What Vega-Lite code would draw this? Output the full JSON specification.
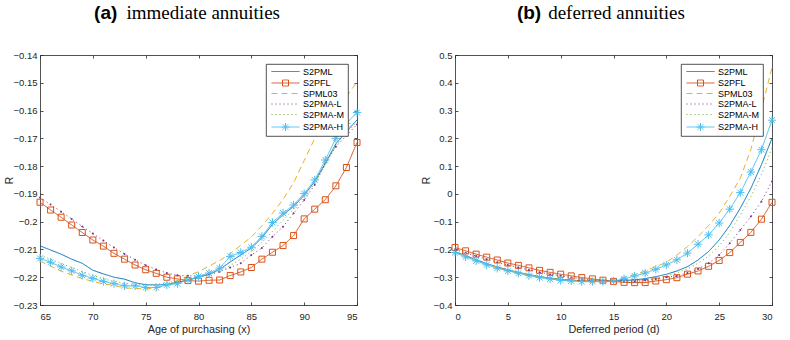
{
  "$schema": "https://vega.github.io/schema/vega-lite/v6.json",
  "autosize": {"type": "pad"},
  "padding": {"left": 3, "top": 3, "right": 5, "bottom": 2},
  "background": "white",
  "spacing": 98,
  "bounds": "flush",
  "config": {
    "view": {"stroke": null},
    "axis": {
      "grid": false,
      "domainColor": "#262626", "domainWidth": 0.8,
      "tickColor": "#262626", "tickWidth": 0.8, "tickSize": -3,
      "labelColor": "#262626", "labelFont": "Liberation Sans", "labelFontSize": 9.5,
      "titleColor": "#262626", "titleFont": "Liberation Sans", "titleFontSize": 10.8, "titleFontWeight": "normal"
    },
    "legend": {
      "orient": "top-right", "offset": 9, "title": null,
      "fillColor": "white", "strokeColor": "#262626", "strokeWidth": 0.8,
      "padding": 3, "cornerRadius": 0,
      "labelFont": "Liberation Sans", "labelFontSize": 9, "labelColor": "#000000", "labelAlign": "left",
      "symbolSize": 64, "symbolStrokeWidth": 1, "symbolOffset": 12, "labelOffset": 13, "rowPadding": 0.5,
      "symbolType": "stroke"
    }
  },
  "datasets": {
    "imm": [
      {"x":65,"S2PML":-0.2087,"S2PFL":-0.1930,"SPML03":-0.2142,"S2PMA-L":-0.1913,"S2PMA-M":-0.2120,"S2PMA-H":-0.2132},
      {"x":66,"S2PML":-0.2102,"S2PFL":-0.1958,"SPML03":-0.2160,"S2PMA-L":-0.1938,"S2PMA-M":-0.2135,"S2PMA-H":-0.2146},
      {"x":67,"S2PML":-0.2117,"S2PFL":-0.1984,"SPML03":-0.2178,"S2PMA-L":-0.1964,"S2PMA-M":-0.2150,"S2PMA-H":-0.2163},
      {"x":68,"S2PML":-0.2135,"S2PFL":-0.2012,"SPML03":-0.2192,"S2PMA-L":-0.1990,"S2PMA-M":-0.2165,"S2PMA-H":-0.2177},
      {"x":69,"S2PML":-0.2150,"S2PFL":-0.2039,"SPML03":-0.2205,"S2PMA-L":-0.2017,"S2PMA-M":-0.2180,"S2PMA-H":-0.2193},
      {"x":70,"S2PML":-0.2175,"S2PFL":-0.2066,"SPML03":-0.2215,"S2PMA-L":-0.2043,"S2PMA-M":-0.2193,"S2PMA-H":-0.2204},
      {"x":71,"S2PML":-0.2188,"S2PFL":-0.2088,"SPML03":-0.2224,"S2PMA-L":-0.2068,"S2PMA-M":-0.2205,"S2PMA-H":-0.2215},
      {"x":72,"S2PML":-0.2200,"S2PFL":-0.2114,"SPML03":-0.2230,"S2PMA-L":-0.2093,"S2PMA-M":-0.2215,"S2PMA-H":-0.2223},
      {"x":73,"S2PML":-0.2207,"S2PFL":-0.2135,"SPML03":-0.2238,"S2PMA-L":-0.2116,"S2PMA-M":-0.2222,"S2PMA-H":-0.2231},
      {"x":74,"S2PML":-0.2220,"S2PFL":-0.2156,"SPML03":-0.2241,"S2PMA-L":-0.2137,"S2PMA-M":-0.2226,"S2PMA-H":-0.2231},
      {"x":75,"S2PML":-0.2227,"S2PFL":-0.2173,"SPML03":-0.2242,"S2PMA-L":-0.2157,"S2PMA-M":-0.2228,"S2PMA-H":-0.2237},
      {"x":76,"S2PML":-0.2228,"S2PFL":-0.2186,"SPML03":-0.2238,"S2PMA-L":-0.2172,"S2PMA-M":-0.2226,"S2PMA-H":-0.2237},
      {"x":77,"S2PML":-0.2226,"S2PFL":-0.2200,"SPML03":-0.2228,"S2PMA-L":-0.2185,"S2PMA-M":-0.2220,"S2PMA-H":-0.2228},
      {"x":78,"S2PML":-0.2218,"S2PFL":-0.2206,"SPML03":-0.2212,"S2PMA-L":-0.2193,"S2PMA-M":-0.2214,"S2PMA-H":-0.2223},
      {"x":79,"S2PML":-0.2211,"S2PFL":-0.2212,"SPML03":-0.2195,"S2PMA-L":-0.2195,"S2PMA-M":-0.2206,"S2PMA-H":-0.2210},
      {"x":80,"S2PML":-0.2200,"S2PFL":-0.2214,"SPML03":-0.2180,"S2PMA-L":-0.2195,"S2PMA-M":-0.2200,"S2PMA-H":-0.2197},
      {"x":81,"S2PML":-0.2190,"S2PFL":-0.2211,"SPML03":-0.2160,"S2PMA-L":-0.2190,"S2PMA-M":-0.2193,"S2PMA-H":-0.2185},
      {"x":82,"S2PML":-0.2172,"S2PFL":-0.2210,"SPML03":-0.2140,"S2PMA-L":-0.2180,"S2PMA-M":-0.2178,"S2PMA-H":-0.2167},
      {"x":83,"S2PML":-0.2145,"S2PFL":-0.2194,"SPML03":-0.2115,"S2PMA-L":-0.2165,"S2PMA-M":-0.2158,"S2PMA-H":-0.2125},
      {"x":84,"S2PML":-0.2120,"S2PFL":-0.2181,"SPML03":-0.2085,"S2PMA-L":-0.2150,"S2PMA-M":-0.2135,"S2PMA-H":-0.2111},
      {"x":85,"S2PML":-0.2095,"S2PFL":-0.2165,"SPML03":-0.2055,"S2PMA-L":-0.2120,"S2PMA-M":-0.2108,"S2PMA-H":-0.2092},
      {"x":86,"S2PML":-0.2058,"S2PFL":-0.2135,"SPML03":-0.2015,"S2PMA-L":-0.2095,"S2PMA-M":-0.2075,"S2PMA-H":-0.2053},
      {"x":87,"S2PML":-0.2010,"S2PFL":-0.2110,"SPML03":-0.1970,"S2PMA-L":-0.2054,"S2PMA-M":-0.2035,"S2PMA-H":-0.2003},
      {"x":88,"S2PML":-0.1975,"S2PFL":-0.2086,"SPML03":-0.1920,"S2PMA-L":-0.2018,"S2PMA-M":-0.1995,"S2PMA-H":-0.1969},
      {"x":89,"S2PML":-0.1945,"S2PFL":-0.2050,"SPML03":-0.1860,"S2PMA-L":-0.1970,"S2PMA-M":-0.1955,"S2PMA-H":-0.1940},
      {"x":90,"S2PML":-0.1905,"S2PFL":-0.1990,"SPML03":-0.1780,"S2PMA-L":-0.1922,"S2PMA-M":-0.1912,"S2PMA-H":-0.1899},
      {"x":91,"S2PML":-0.1855,"S2PFL":-0.1955,"SPML03":-0.1700,"S2PMA-L":-0.1867,"S2PMA-M":-0.1862,"S2PMA-H":-0.1850},
      {"x":92,"S2PML":-0.1790,"S2PFL":-0.1921,"SPML03":-0.1650,"S2PMA-L":-0.1790,"S2PMA-M":-0.1795,"S2PMA-H":-0.1778},
      {"x":93,"S2PML":-0.1720,"S2PFL":-0.1871,"SPML03":-0.1600,"S2PMA-L":-0.1730,"S2PMA-M":-0.1725,"S2PMA-H":-0.1700},
      {"x":94,"S2PML":-0.1675,"S2PFL":-0.1805,"SPML03":-0.1550,"S2PMA-L":-0.1690,"S2PMA-M":-0.1680,"S2PMA-H":-0.1646},
      {"x":95,"S2PML":-0.1634,"S2PFL":-0.1715,"SPML03":-0.1496,"S2PMA-L":-0.1650,"S2PMA-M":-0.1642,"S2PMA-H":-0.1607}
    ],
    "def": [
      {"x":0,"S2PML":-0.2076,"S2PFL":-0.1931,"SPML03":-0.2100,"S2PMA-L":-0.2000,"S2PMA-M":-0.2090,"S2PMA-H":-0.2112},
      {"x":1,"S2PML":-0.2220,"S2PFL":-0.2050,"SPML03":-0.2250,"S2PMA-L":-0.2120,"S2PMA-M":-0.2235,"S2PMA-H":-0.2268},
      {"x":2,"S2PML":-0.2370,"S2PFL":-0.2170,"SPML03":-0.2390,"S2PMA-L":-0.2240,"S2PMA-M":-0.2380,"S2PMA-H":-0.2413},
      {"x":3,"S2PML":-0.2510,"S2PFL":-0.2278,"SPML03":-0.2530,"S2PMA-L":-0.2350,"S2PMA-M":-0.2520,"S2PMA-H":-0.2557},
      {"x":4,"S2PML":-0.2630,"S2PFL":-0.2380,"SPML03":-0.2650,"S2PMA-L":-0.2460,"S2PMA-M":-0.2640,"S2PMA-H":-0.2677},
      {"x":5,"S2PML":-0.2735,"S2PFL":-0.2490,"SPML03":-0.2750,"S2PMA-L":-0.2560,"S2PMA-M":-0.2745,"S2PMA-H":-0.2774},
      {"x":6,"S2PML":-0.2825,"S2PFL":-0.2573,"SPML03":-0.2840,"S2PMA-L":-0.2650,"S2PMA-M":-0.2835,"S2PMA-H":-0.2858},
      {"x":7,"S2PML":-0.2905,"S2PFL":-0.2663,"SPML03":-0.2920,"S2PMA-L":-0.2740,"S2PMA-M":-0.2915,"S2PMA-H":-0.2942},
      {"x":8,"S2PML":-0.2975,"S2PFL":-0.2753,"SPML03":-0.2990,"S2PMA-L":-0.2820,"S2PMA-M":-0.2985,"S2PMA-H":-0.3014},
      {"x":9,"S2PML":-0.3030,"S2PFL":-0.2825,"SPML03":-0.3040,"S2PMA-L":-0.2890,"S2PMA-M":-0.3040,"S2PMA-H":-0.3063},
      {"x":10,"S2PML":-0.3075,"S2PFL":-0.2891,"SPML03":-0.3085,"S2PMA-L":-0.2950,"S2PMA-M":-0.3085,"S2PMA-H":-0.3111},
      {"x":11,"S2PML":-0.3105,"S2PFL":-0.2952,"SPML03":-0.3115,"S2PMA-L":-0.3010,"S2PMA-M":-0.3118,"S2PMA-H":-0.3135},
      {"x":12,"S2PML":-0.3125,"S2PFL":-0.3012,"SPML03":-0.3130,"S2PMA-L":-0.3060,"S2PMA-M":-0.3140,"S2PMA-H":-0.3159},
      {"x":13,"S2PML":-0.3135,"S2PFL":-0.3060,"SPML03":-0.3130,"S2PMA-L":-0.3100,"S2PMA-M":-0.3152,"S2PMA-H":-0.3159},
      {"x":14,"S2PML":-0.3135,"S2PFL":-0.3108,"SPML03":-0.3110,"S2PMA-L":-0.3130,"S2PMA-M":-0.3155,"S2PMA-H":-0.3159},
      {"x":15,"S2PML":-0.3130,"S2PFL":-0.3150,"SPML03":-0.3070,"S2PMA-L":-0.3150,"S2PMA-M":-0.3150,"S2PMA-H":-0.3136},
      {"x":16,"S2PML":-0.3115,"S2PFL":-0.3185,"SPML03":-0.3000,"S2PMA-L":-0.3160,"S2PMA-M":-0.3140,"S2PMA-H":-0.3060},
      {"x":17,"S2PML":-0.3098,"S2PFL":-0.3195,"SPML03":-0.2900,"S2PMA-L":-0.3150,"S2PMA-M":-0.3120,"S2PMA-H":-0.2955},
      {"x":18,"S2PML":-0.3050,"S2PFL":-0.3193,"SPML03":-0.2775,"S2PMA-L":-0.3120,"S2PMA-M":-0.3090,"S2PMA-H":-0.2850},
      {"x":19,"S2PML":-0.2978,"S2PFL":-0.3136,"SPML03":-0.2618,"S2PMA-L":-0.3070,"S2PMA-M":-0.3030,"S2PMA-H":-0.2715},
      {"x":20,"S2PML":-0.2895,"S2PFL":-0.3088,"SPML03":-0.2462,"S2PMA-L":-0.3000,"S2PMA-M":-0.2950,"S2PMA-H":-0.2558},
      {"x":21,"S2PML":-0.2775,"S2PFL":-0.3016,"SPML03":-0.2198,"S2PMA-L":-0.2960,"S2PMA-M":-0.2840,"S2PMA-H":-0.2372},
      {"x":22,"S2PML":-0.2620,"S2PFL":-0.2890,"SPML03":-0.1897,"S2PMA-L":-0.2850,"S2PMA-M":-0.2700,"S2PMA-H":-0.2131},
      {"x":23,"S2PML":-0.2380,"S2PFL":-0.2775,"SPML03":-0.1537,"S2PMA-L":-0.2700,"S2PMA-M":-0.2500,"S2PMA-H":-0.1812},
      {"x":24,"S2PML":-0.2077,"S2PFL":-0.2607,"SPML03":-0.1140,"S2PMA-L":-0.2500,"S2PMA-M":-0.2240,"S2PMA-H":-0.1476},
      {"x":25,"S2PML":-0.1660,"S2PFL":-0.2396,"SPML03":-0.0696,"S2PMA-L":-0.2198,"S2PMA-M":-0.1870,"S2PMA-H":-0.1049},
      {"x":26,"S2PML":-0.1140,"S2PFL":-0.2113,"SPML03":-0.0094,"S2PMA-L":-0.1777,"S2PMA-M":-0.1390,"S2PMA-H":-0.0550},
      {"x":27,"S2PML":-0.0515,"S2PFL":-0.1747,"SPML03":0.0566,"S2PMA-L":-0.1297,"S2PMA-M":-0.0750,"S2PMA-H":0.0046},
      {"x":28,"S2PML":0.0200,"S2PFL":-0.1386,"SPML03":0.1600,"S2PMA-L":-0.0815,"S2PMA-M":-0.0100,"S2PMA-H":0.0785},
      {"x":29,"S2PML":0.1050,"S2PFL":-0.0910,"SPML03":0.3050,"S2PMA-L":-0.0274,"S2PMA-M":0.0700,"S2PMA-H":0.1590},
      {"x":30,"S2PML":0.2000,"S2PFL":-0.0303,"SPML03":0.4550,"S2PMA-L":0.0450,"S2PMA-M":0.1650,"S2PMA-H":0.2653}
    ]
  },
  "resolve": {
    "scale": {"x": "independent", "y": "independent"},
    "legend": {"color": "independent", "strokeDash": "independent"}
  },
  "hconcat": [
    {
      "width": 317, "height": 250,
      "data": {"name": "imm"},
      "transform": [{"fold": ["S2PML", "S2PFL", "SPML03", "S2PMA-L", "S2PMA-M", "S2PMA-H"], "as": ["series", "R"]}],
      "resolve": {"axis": {"x": "independent", "y": "independent"}},
      "layer": [
        {
          "mark": {"type": "line", "strokeWidth": 1},
          "encoding": {
            "x": {"field": "x", "type": "quantitative",
              "scale": {"domain": [65, 95], "nice": false, "zero": false},
              "axis": {"orient": "bottom", "values": [65, 70, 75, 80, 85, 90, 95], "labelPadding": 9,
                "title": "Age of purchasing (x)", "titleX": 158.5, "titleY": 24.5, "titleBaseline": "middle", "titleAlign": "center"}},
            "y": {"field": "R", "type": "quantitative",
              "scale": {"domain": [-0.23, -0.14], "nice": false, "zero": false},
              "axis": {"orient": "left", "values": [-0.23, -0.22, -0.21, -0.2, -0.19, -0.18, -0.17, -0.16, -0.15, -0.14],
                "format": ".2~f", "labelPadding": 6,
                "title": "R", "titleX": -31, "titleY": 125, "titleAngle": -90, "titleBaseline": "middle", "titleAlign": "center"}},
            "color": {"field": "series", "type": "nominal",
              "scale": {"domain": ["S2PML", "S2PFL", "SPML03", "S2PMA-L", "S2PMA-M", "S2PMA-H"],
                "range": ["#0072BD", "#D95319", "#EDB120", "#7E2F8E", "#77AC30", "#4DBEEE"]},
              "legend": {"encode": {"symbols": {"update": {
                "shape": {"signal": "datum.value === 'S2PFL' ? 'M-3.5,0H3.5M-0.75,-0.75H0.75V0.75H-0.75Z' : (datum.value === 'S2PMA-H' ? 'M-3.5,0H3.5M0,-1V1M-1,0H1M-0.7,-0.7L0.7,0.7M-0.7,0.7L0.7,-0.7' : 'M-3.5,0H3.5')"},
                "fill": {"value": "transparent"}}}}}},
            "strokeDash": {"field": "series", "type": "nominal",
              "scale": {"domain": ["S2PML", "S2PFL", "SPML03", "S2PMA-L", "S2PMA-M", "S2PMA-H"],
                "range": [[1, 0], [1, 0], [6, 4], [1, 3], [1, 3], [1, 0]]}}
          }
        },
        {
          "transform": [{"filter": {"field": "series", "equal": "S2PFL"}}],
          "mark": {"type": "point", "shape": "square", "filled": false, "strokeWidth": 1, "size": 36, "color": "#D95319", "opacity": 1},
          "encoding": {
            "x": {"field": "x", "type": "quantitative",
              "axis": {"orient": "top", "values": [65, 70, 75, 80, 85, 90, 95], "labels": false,
                "title": "immediate annuities", "titleFont": "Liberation Serif", "titleFontSize": 19, "titleColor": "#000000",
                "titleX": 162.7, "titleY": -37, "titleBaseline": "alphabetic", "titleAlign": "center"}},
            "y": {"field": "R", "type": "quantitative", "axis": null}
          }
        },
        {
          "transform": [{"filter": {"field": "series", "equal": "S2PMA-L"}}],
          "mark": {"type": "point", "shape": "circle", "filled": true, "size": 4, "color": "#7E2F8E", "opacity": 1},
          "encoding": {
            "x": {"field": "x", "type": "quantitative", "axis": null},
            "y": {"field": "R", "type": "quantitative",
              "axis": {"orient": "right", "values": [-0.23, -0.22, -0.21, -0.2, -0.19, -0.18, -0.17, -0.16, -0.15, -0.14], "labels": false,
                "title": "(a)", "titleFont": "Liberation Sans", "titleFontSize": 19, "titleFontWeight": "bold", "titleColor": "#000000",
                "titleAngle": 0, "titleX": -251.8, "titleY": -37, "titleBaseline": "alphabetic", "titleAlign": "center"}}
          }
        },
        {
          "transform": [{"filter": {"field": "series", "equal": "S2PMA-H"}}],
          "mark": {"type": "point", "shape": "M0,-1V1M-1,0H1M-0.7,-0.7L0.7,0.7M-0.7,0.7L0.7,-0.7", "filled": false, "strokeWidth": 1, "size": 70, "color": "#4DBEEE", "opacity": 1},
          "encoding": {
            "x": {"field": "x", "type": "quantitative", "axis": null},
            "y": {"field": "R", "type": "quantitative", "axis": null}
          }
        }
      ]
    },
    {
      "width": 317, "height": 250,
      "data": {"name": "def"},
      "transform": [{"fold": ["S2PML", "S2PFL", "SPML03", "S2PMA-L", "S2PMA-M", "S2PMA-H"], "as": ["series", "R"]}],
      "resolve": {"axis": {"x": "independent", "y": "independent"}},
      "layer": [
        {
          "mark": {"type": "line", "strokeWidth": 1},
          "encoding": {
            "x": {"field": "x", "type": "quantitative",
              "scale": {"domain": [0, 30], "nice": false, "zero": false},
              "axis": {"orient": "bottom", "values": [0, 5, 10, 15, 20, 25, 30], "labelPadding": 9,
                "title": "Deferred period (d)", "titleX": 158.5, "titleY": 24.5, "titleBaseline": "middle", "titleAlign": "center"}},
            "y": {"field": "R", "type": "quantitative",
              "scale": {"domain": [-0.4, 0.5], "nice": false, "zero": false},
              "axis": {"orient": "left", "values": [-0.4, -0.3, -0.2, -0.1, 0, 0.1, 0.2, 0.3, 0.4, 0.5],
                "format": ".1~f", "labelPadding": 6,
                "title": "R", "titleX": -29, "titleY": 125, "titleAngle": -90, "titleBaseline": "middle", "titleAlign": "center"}},
            "color": {"field": "series", "type": "nominal",
              "scale": {"domain": ["S2PML", "S2PFL", "SPML03", "S2PMA-L", "S2PMA-M", "S2PMA-H"],
                "range": ["#0072BD", "#D95319", "#EDB120", "#7E2F8E", "#77AC30", "#4DBEEE"]},
              "legend": {"encode": {"symbols": {"update": {
                "shape": {"signal": "datum.value === 'S2PFL' ? 'M-3.5,0H3.5M-0.75,-0.75H0.75V0.75H-0.75Z' : (datum.value === 'S2PMA-H' ? 'M-3.5,0H3.5M0,-1V1M-1,0H1M-0.7,-0.7L0.7,0.7M-0.7,0.7L0.7,-0.7' : 'M-3.5,0H3.5')"},
                "fill": {"value": "transparent"}}}}}},
            "strokeDash": {"field": "series", "type": "nominal",
              "scale": {"domain": ["S2PML", "S2PFL", "SPML03", "S2PMA-L", "S2PMA-M", "S2PMA-H"],
                "range": [[1, 0], [1, 0], [6, 4], [1, 3], [1, 3], [1, 0]]}}
          }
        },
        {
          "transform": [{"filter": {"field": "series", "equal": "S2PFL"}}],
          "mark": {"type": "point", "shape": "square", "filled": false, "strokeWidth": 1, "size": 36, "color": "#D95319", "opacity": 1},
          "encoding": {
            "x": {"field": "x", "type": "quantitative",
              "axis": {"orient": "top", "values": [0, 5, 10, 15, 20, 25, 30], "labels": false,
                "title": "deferred annuities", "titleFont": "Liberation Serif", "titleFontSize": 19, "titleColor": "#000000",
                "titleX": 161, "titleY": -37, "titleBaseline": "alphabetic", "titleAlign": "center"}},
            "y": {"field": "R", "type": "quantitative", "axis": null}
          }
        },
        {
          "transform": [{"filter": {"field": "series", "equal": "S2PMA-L"}}],
          "mark": {"type": "point", "shape": "circle", "filled": true, "size": 4, "color": "#7E2F8E", "opacity": 1},
          "encoding": {
            "x": {"field": "x", "type": "quantitative", "axis": null},
            "y": {"field": "R", "type": "quantitative",
              "axis": {"orient": "right", "values": [-0.4, -0.3, -0.2, -0.1, 0, 0.1, 0.2, 0.3, 0.4, 0.5], "labels": false,
                "title": "(b)", "titleFont": "Liberation Sans", "titleFontSize": 19, "titleFontWeight": "bold", "titleColor": "#000000",
                "titleAngle": 0, "titleX": -243.5, "titleY": -37, "titleBaseline": "alphabetic", "titleAlign": "center"}}
          }
        },
        {
          "transform": [{"filter": {"field": "series", "equal": "S2PMA-H"}}],
          "mark": {"type": "point", "shape": "M0,-1V1M-1,0H1M-0.7,-0.7L0.7,0.7M-0.7,0.7L0.7,-0.7", "filled": false, "strokeWidth": 1, "size": 70, "color": "#4DBEEE", "opacity": 1},
          "encoding": {
            "x": {"field": "x", "type": "quantitative", "axis": null},
            "y": {"field": "R", "type": "quantitative", "axis": null}
          }
        }
      ]
    }
  ]
}
